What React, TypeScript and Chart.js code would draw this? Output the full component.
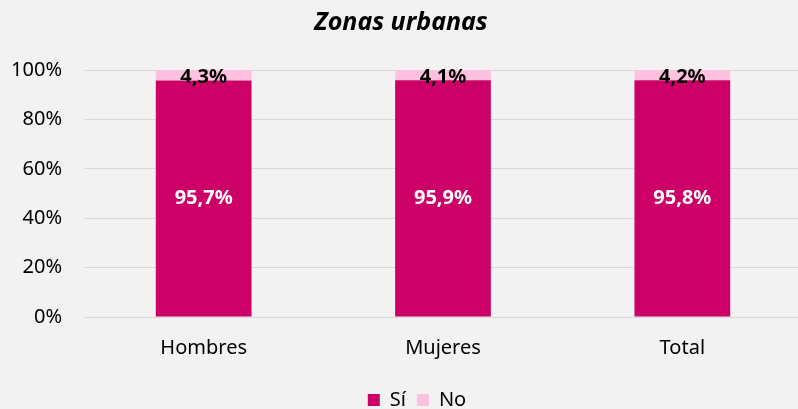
import React, { useEffect, useRef } from "react";
import { Chart, registerables } from "chart.js";

Chart.register(...registerables);

const categories = ["Hombres", "Mujeres", "Total"];
const siValues = [95.7, 95.9, 95.8];
const noValues = [4.3, 4.1, 4.2];
const yTicks = [0, 20, 40, 60, 80, 100];

const FONT = "'Noto Sans', 'Open Sans', sans-serif";

const bgPlugin = {
  id: "bg",
  beforeDraw(chart: any) {
    const { ctx, width, height } = chart;
    ctx.save();
    ctx.fillStyle = "#f2f2f2";
    ctx.fillRect(0, 0, width, height);
    ctx.restore();
  },
};

const legendShift = {
  id: "legendShift",
  afterLayout(chart: any) {
    const lg = chart.legend;
    if (lg) {
      lg.left += 16;
      lg.right += 16;
    }
  },
};

const labelPlugin = {
  id: "barLabels",
  afterDatasetsDraw(chart: any) {
    const { ctx } = chart;
    ctx.save();
    ctx.textAlign = "center";
    ctx.textBaseline = "middle";
    ctx.font = `bold 20px ${FONT}`;
    chart.data.datasets.forEach((ds: any, di: number) => {
      const meta = chart.getDatasetMeta(di);
      meta.data.forEach((bar: any, i: number) => {
        const v = ds.data[i];
        const txt = v.toFixed(1).replace(".", ",") + "%";
        let y;
        if (di === 0) {
          ctx.fillStyle = "#ffffff";
          y = (bar.y + bar.base) / 2;
        } else {
          ctx.fillStyle = "#000000";
          y = bar.base - 3;
        }
        ctx.fillText(txt, bar.x, y);
      });
    });
    ctx.restore();
  },
};

export default function App() {
  const ref = useRef<HTMLCanvasElement | null>(null);
  useEffect(() => {
    document.body.style.margin = "0";
    const chart = new Chart(ref.current!, {
      type: "bar",
      data: {
        labels: categories,
        datasets: [
          {
            label: "Sí",
            data: siValues,
            backgroundColor: "#cc0066",
            barPercentage: 0.4,
            categoryPercentage: 1,
          },
          {
            label: "No",
            data: noValues,
            backgroundColor: "#ffc1e0",
            barPercentage: 0.4,
            categoryPercentage: 1,
          },
        ],
      },
      options: {
        animation: false,
        responsive: false,
        maintainAspectRatio: false,
        layout: { padding: { left: 0, right: 0, top: 0, bottom: 0 } },
        plugins: {
          title: {
            display: true,
            text: "Zonas urbanas",
            color: "#000",
            font: { family: FONT, size: 25, weight: "bold", style: "italic", lineHeight: 1.2 },
            padding: { top: 8, bottom: 32 },
          },
          legend: {
            position: "bottom",
            labels: {
              color: "#000",
              font: { family: FONT, size: 20 },
              boxWidth: 12,
              boxHeight: 12,
              padding: 11,
            },
          },
          tooltip: { enabled: false },
        },
        scales: {
          x: {
            stacked: true,
            grid: { display: false, drawTicks: false },
            border: { display: false },
            ticks: { color: "#000", font: { family: FONT, size: 20 }, padding: 19 },
          },
          y: {
            stacked: true,
            min: 0,
            max: 100,
            afterFit: (axis: any) => {
              axis.width = 84;
            },
            afterBuildTicks: (axis: any) => {
              axis.ticks = yTicks.map((v) => ({ value: v }));
            },
            grid: { color: "#d9d9d9", drawTicks: false },
            border: { display: false },
            ticks: {
              color: "#000",
              font: { family: FONT, size: 20 },
              padding: 22,
              callback: (v: any) => v + "%",
            },
          },
        },
      },
      plugins: [bgPlugin, legendShift, labelPlugin],
    });
    return () => chart.destroy();
  }, []);
  return (
    <div style={{ width: 798, height: 409, overflow: "hidden", background: "#f2f2f2" }}>
      <canvas ref={ref} width={802} height={420} style={{ display: "block" }} />
    </div>
  );
}
